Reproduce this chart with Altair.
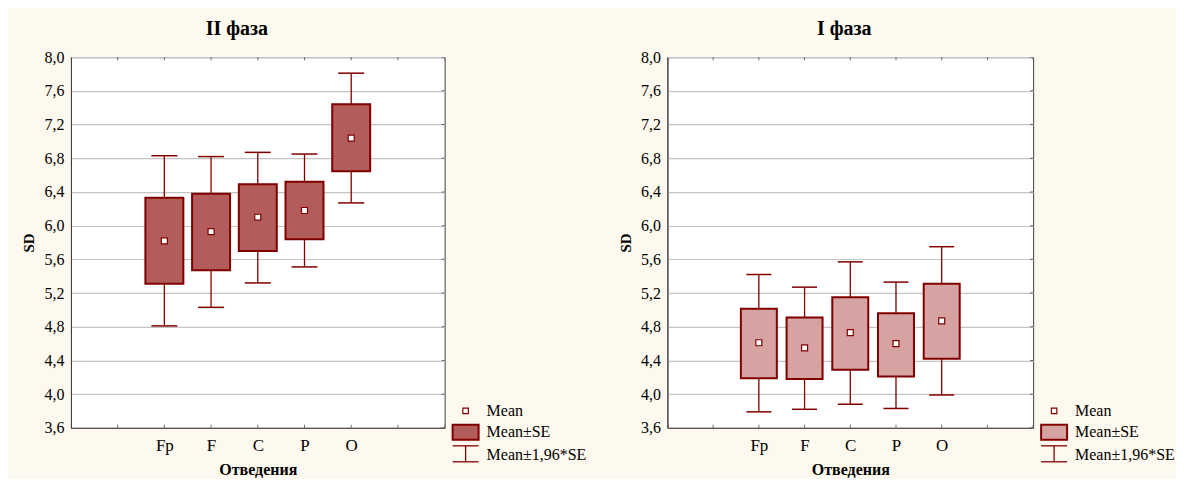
import altair as alt
import pandas as pd

# ---------------- data ----------------
categories = ["Fp", "F", "C", "P", "O"]
positions = [1, 2, 3, 4, 5]

# II фаза (left panel)
mean_2 = [5.82, 5.93, 6.10, 6.18, 7.04]
se_lo_2 = [5.31, 5.47, 5.70, 5.84, 6.645]
se_hi_2 = [6.33, 6.38, 6.49, 6.52, 7.44]
ci_lo_2 = [4.81, 5.03, 5.32, 5.51, 6.27]
ci_hi_2 = [6.83, 6.82, 6.87, 6.85, 7.81]

# I фаза (right panel)
mean_1 = [4.61, 4.55, 4.73, 4.60, 4.87]
se_lo_1 = [4.19, 4.18, 4.29, 4.21, 4.42]
se_hi_1 = [5.015, 4.91, 5.15, 4.96, 5.31]
ci_lo_1 = [3.79, 3.82, 3.88, 3.83, 3.99]
ci_hi_1 = [5.42, 5.27, 5.57, 5.33, 5.75]

y_ticks = [3.6, 4.0, 4.4, 4.8, 5.2, 5.6, 6.0, 6.4, 6.8, 7.2, 7.6, 8.0]
x_ticks = [-1, 0, 1, 2, 3, 4, 5, 6, 7]
legend_labels = ["Mean", "Mean±SE", "Mean±1,96*SE"]
panel_titles = ["II фаза", "I фаза"]
y_title = "SD"
x_title = "Отведения"

# ---------------- style ----------------
FONT = "Liberation Serif"
DARK = "#800000"
CREAM = "#FDF9EE"
H = 371

x_label_expr = "''"
for p, c in reversed(list(zip(positions, categories))):
    x_label_expr = f"datum.value == {p} ? '{c}' : ({x_label_expr})"

x_axis = alt.Axis(values=x_ticks, labelExpr=x_label_expr, title=x_title, grid=False,
                  ticks=False, tickSize=0, labelPadding=10, titlePadding=8, labelFontSize=17,
                  titleFontSize=16, titleFontWeight="bold", domainColor="#404040",
                  labelFlush=False)
y_axis = alt.Axis(values=y_ticks, labelExpr="replace(format(datum.value, '.1f'), '.', ',')",
                  title=y_title, grid=True, gridColor="#c4c4c4", gridWidth=1.2, ticks=False,
                  tickSize=0, labelPadding=7, titlePadding=7, labelFontSize=16,
                  titleFontSize=15, titleFontWeight="bold", domainColor="#404040",
                  labelFlush=False)
x_scale = alt.Scale(domain=[-1, 7], nice=False, zero=False)
y_scale = alt.Scale(domain=[3.6, 8.0], nice=False, zero=False)


def X(f):
    return alt.X(f"{f}:Q", scale=x_scale, axis=x_axis)


def Y(f):
    return alt.Y(f"{f}:Q", scale=y_scale, axis=y_axis)


def panel(title, means, lo, hi, clo, chi, W, box_px, cap_px, fill, title_dx):
    unit = W / 8.0
    hb = box_px / 2 / unit
    hc = cap_px / 2 / unit
    df = pd.DataFrame({"cat": categories, "pos": positions, "mean": means,
                       "lo": lo, "hi": hi, "clo": clo, "chi": chi})
    base = alt.Chart(df).transform_calculate(
        bl=f"datum.pos - {hb}", br=f"datum.pos + {hb}",
        cl=f"datum.pos - {hc}", cr=f"datum.pos + {hc}")

    tdf = pd.DataFrame({"t": x_ticks, "yb": [3.6] * len(x_ticks), "yt": [8.0] * len(x_ticks)})
    rdf = pd.DataFrame({"xr": [7] * len(y_ticks), "y": y_ticks})
    tick_b = alt.Chart(tdf).mark_tick(orient="vertical", size=6, thickness=1, color="#333",
                                      clip=True).encode(x=X("t"), y=Y("yb"))
    tick_t = alt.Chart(tdf).mark_tick(orient="vertical", size=6, thickness=1, color="#333",
                                      clip=True).encode(x=X("t"), y=Y("yt"))
    tick_r = alt.Chart(rdf).mark_tick(orient="horizontal", size=6, thickness=1, color="#333",
                                      clip=True).encode(x=X("xr"), y=Y("y"))

    whisk = base.mark_rule(color=DARK, strokeWidth=1.3).encode(x=X("pos"), y=Y("clo"), y2="chi")
    cap_hi = base.mark_rule(color=DARK, strokeWidth=1.5).encode(x=X("cl"), x2="cr", y=Y("chi"))
    cap_lo = base.mark_rule(color=DARK, strokeWidth=1.5).encode(x=X("cl"), x2="cr", y=Y("clo"))
    box = base.mark_rect(fill=fill, stroke=DARK, strokeWidth=2).encode(
        x=X("bl"), x2="br", y=Y("lo"), y2="hi")
    mean = base.mark_square(size=36, fill="white", stroke=DARK, strokeWidth=1.2,
                            opacity=1).encode(x=X("pos"), y=Y("mean"))

    one = pd.DataFrame({"k": [0]})
    sx0, sx1, sxm = W + 8, W + 34, W + 21
    leg_mean = alt.Chart(one).mark_square(size=30, fill="white", stroke=DARK, strokeWidth=1.2,
                                          opacity=1).encode(x=alt.value(sxm), y=alt.value(H - 17))
    leg_box = alt.Chart(one).mark_rect(fill=fill, stroke=DARK, strokeWidth=2).encode(
        x=alt.value(sx0), x2=alt.value(sx1), y=alt.value(H - 3), y2=alt.value(H + 12))
    leg_r1 = alt.Chart(one).mark_rule(color=DARK, strokeWidth=1.3).encode(
        x=alt.value(sx0), x2=alt.value(sx1), y=alt.value(H + 18))
    leg_r2 = alt.Chart(one).mark_rule(color=DARK, strokeWidth=1.3).encode(
        x=alt.value(sxm), y=alt.value(H + 18), y2=alt.value(H + 34))
    leg_r3 = alt.Chart(one).mark_rule(color=DARK, strokeWidth=1.3).encode(
        x=alt.value(sx0), x2=alt.value(sx1), y=alt.value(H + 34))
    texts = []
    for lab, yy in zip(legend_labels, [H - 17, H + 4, H + 27]):
        texts.append(alt.Chart(pd.DataFrame({"label": [lab]})).mark_text(
            align="left", baseline="middle", font=FONT, fontSize=16, color="black").encode(
            x=alt.value(W + 42), y=alt.value(yy), text="label:N"))

    return alt.layer(tick_b, tick_t, tick_r, whisk, cap_hi, cap_lo, box, mean,
                     leg_mean, leg_box, leg_r1, leg_r2, leg_r3, *texts).properties(
        width=W, height=H,
        title=alt.TitleParams(title, font=FONT, fontSize=20, fontWeight="bold", color="black",
                              anchor="middle", frame="group", dx=title_dx, offset=10))


left = panel(panel_titles[0], mean_2, se_lo_2, se_hi_2, ci_lo_2, ci_hi_2, 374, 38, 26,
             "#B25C5C", -21)
right = panel(panel_titles[1], mean_1, se_lo_1, se_hi_1, ci_lo_1, ci_hi_1, 366, 36, 25,
              "#D6A2A2", -6)

chart = alt.hconcat(left, right, spacing=30).properties(
    padding={"left": 13, "top": 10, "right": 0, "bottom": 0},
    background=CREAM,
).configure_view(fill="white", stroke="#404040", strokeWidth=1).configure_axis(
    labelFont=FONT, titleFont=FONT, labelColor="black", titleColor="black")

chart.save("out.html", embed_options={"renderer": "svg", "actions": False})
